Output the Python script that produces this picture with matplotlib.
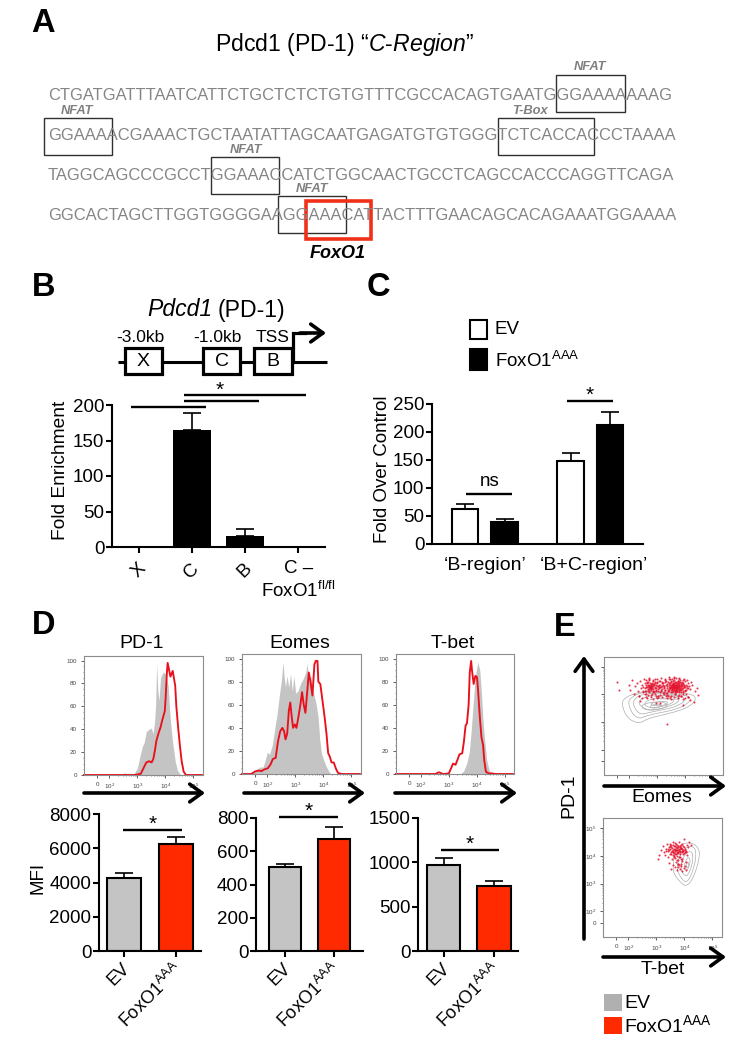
import matplotlib
matplotlib.use('Agg')
import matplotlib.pyplot as plt
import numpy as np
from matplotlib.patches import Rectangle
from matplotlib.transforms import ScaledTranslation

plt.rcParams['font.family'] = ['Liberation Sans', 'DejaVu Sans']
plt.rcParams['mathtext.fontset'] = 'custom'
plt.rcParams['mathtext.rm'] = 'Liberation Sans'
plt.rcParams['mathtext.it'] = 'Liberation Sans:italic'
plt.rcParams['mathtext.bf'] = 'Liberation Sans:bold'
plt.rcParams['mathtext.default'] = 'regular'

W, H = 739, 1049
GREY = '#c4c4c4'
RED = '#ff2a00'
FOX = r'FoxO1$^{AAA}$'

# panel A
seq_lines = ['CTGATGATTTAATCATTCTGCTCTCTGTGTTTCGCCACAGTGAATGGGAAAAAAAG',
             'GGAAAACGAAACTGCTAATATTAGCAATGAGATGTGTGGGTCTCACCACCCTAAAA',
             'TAGGCAGCCCGCCTGGAAACCATCTGGCAACTGCCTCAGCCACCCAGGTTCAGA',
             'GGCACTAGCTTGGTGGGGAAGGAAACATTACTTTGAACAGCACAGAAATGGAAAA']
motif_names = ['NFAT', 'NFAT', 'T-Box', 'NFAT', 'NFAT']

# panel B
b_labels = ['X', 'C', 'B', 'C \u2013\nFoxO1$^{fl/fl}$']
b_values = [1, 165, 16, 0.8]
b_errors = [0, 24, 9, 0]
b_ticks = [0, 50, 100, 150, 200]

# panel C
c_groups = ['\u2018B-region\u2019', '\u2018B+C-region\u2019']
c_ev = [63, 148]
c_ev_err = [8, 15]
c_fox = [40, 213]
c_fox_err = [5, 22]
c_ticks = [0, 50, 100, 150, 200, 250]

# panel D bars
mfi_names = ['PD-1', 'Eomes', 'T-bet']
mfi_ev = [4250, 505, 975]
mfi_ev_err = [300, 20, 75]
mfi_fox = [6280, 675, 735]
mfi_fox_err = [420, 70, 55]
mfi_ticks = [[0, 2000, 4000, 6000, 8000], [0, 200, 400, 600, 800], [0, 500, 1000, 1500]]

# panel D histograms, x in log10 units
pd1_grey_x = [1.1, 2.40, 2.56, 2.70, 2.88, 3.0, 3.08, 3.18, 3.24, 3.32, 3.42, 3.5, 3.56, 3.61, 3.65, 3.69, 3.73,
              3.77, 3.83, 3.92, 4.01, 4.10, 4.17, 4.25, 4.35, 4.43, 4.55, 5.3]
pd1_grey_y = [0, 0, 2, 0.5, 1, 6, 15, 25, 28, 38, 40, 41, 36, 45, 60, 97, 75, 65, 85, 90, 88, 78, 50, 30, 12, 4, 0, 0]
pd1_red_x = [1.1, 2.9, 3.12, 3.24, 3.32, 3.42, 3.51, 3.57, 3.63, 3.68, 3.75, 3.83, 3.89, 3.98, 4.01, 4.05, 4.08,
             4.13, 4.18, 4.26, 4.35, 4.39, 4.46, 4.52, 4.58, 4.65, 4.73, 5.3]
pd1_red_y = [0, 0, 1, 7, 11, 12, 11, 14, 22, 30, 36, 42, 48, 56, 68, 88, 98, 92, 86, 91, 78, 60, 40, 25, 12, 3, 0, 0]

eomes_grey_x = [1.1, 1.37, 1.55, 1.73, 1.85, 1.94, 2.0, 2.08, 2.18, 2.26, 2.35, 2.44, 2.5, 2.56, 2.6, 2.65, 2.70,
                2.77, 2.83, 2.89, 2.95, 3.01, 3.10, 3.18, 3.27, 3.37, 3.42, 3.48, 3.55, 3.63, 3.73, 3.81, 3.87,
                3.93, 4.01, 4.11, 4.23, 4.29, 5.3]
eomes_grey_y = [0, 0, 2, 6, 6, 13, 19, 17, 25, 38, 52, 70, 80, 97, 85, 75, 85, 75, 87, 72, 85, 70, 72, 78, 82, 88,
                96, 80, 85, 72, 62, 50, 30, 18, 12, 6, 1, 0, 0]
eomes_red_x = [1.1, 1.43, 1.55, 1.67, 1.79, 1.90, 2.02, 2.11, 2.20, 2.30, 2.38, 2.46, 2.54, 2.60, 2.65, 2.71, 2.77,
               2.82, 2.87, 2.92, 2.98, 3.04, 3.10, 3.18, 3.24, 3.30, 3.36, 3.42, 3.48, 3.54, 3.61, 3.68, 3.73,
               3.79, 3.82, 3.89, 3.96, 4.04, 4.11, 4.17, 4.23, 4.29, 4.37, 4.44, 4.52, 4.64, 5.3]
eomes_red_y = [0, 0, 2, 3, 2.5, 4, 5, 8, 13, 14, 28, 37, 40, 37, 30, 35, 55, 62, 50, 40, 43, 40, 48, 60, 71, 60, 53,
               70, 88, 80, 68, 95, 98, 98, 80, 78, 65, 50, 35, 18, 15, 10, 10, 5, 1, 0, 0]

tbet_grey_x = [1.1, 3.42, 3.54, 3.65, 3.74, 3.81, 3.87, 3.95, 4.04, 4.11, 4.17, 4.23, 4.29, 4.36, 4.45, 4.55, 5.3]
tbet_grey_y = [0, 0, 3, 10, 20, 40, 60, 85, 97, 90, 70, 45, 28, 12, 3, 0, 0]
tbet_red_x = [1.1, 2.52, 2.64, 2.79, 3, 3.08, 3.15, 3.24, 3.32, 3.38, 3.48, 3.54, 3.60, 3.65, 3.71, 3.75, 3.80,
              3.83, 3.89, 3.95, 4.01, 4.05, 4.11, 4.17, 4.23, 4.27, 4.33, 4.43, 4.55, 4.67, 5.3]
tbet_red_y = [0, 0, 1.5, 0, 0.5, 5, 9, 8, 13, 17, 18, 28, 42, 44, 60, 88, 98, 90, 78, 85, 84, 72, 50, 32, 25, 12, 2,
              0.5, 0.5, 0, 0]

# panel E contours (EV), x and y in log10 units
eomes_contours = [
    ([1.73, 1.85, 2.14, 2.56, 3.15, 3.75, 4.29, 4.38, 4.17, 3.75, 3.15, 2.68, 2.38, 2.08, 1.85],
     [3.70, 3.88, 4.02, 4.12, 4.10, 4.06, 4.00, 3.82, 3.58, 3.40, 3.25, 3.13, 2.96, 3.04, 3.28]),
    ([1.95, 2.10, 2.45, 3.00, 3.60, 4.10, 4.20, 3.95, 3.50, 3.00, 2.60, 2.35, 2.10],
     [3.72, 3.92, 4.08, 4.08, 4.04, 3.95, 3.80, 3.58, 3.42, 3.32, 3.22, 3.12, 3.30]),
    ([2.12, 2.30, 2.70, 3.20, 3.70, 3.98, 3.95, 3.55, 3.05, 2.65, 2.40, 2.22],
     [3.72, 3.95, 4.04, 4.02, 3.98, 3.88, 3.72, 3.52, 3.42, 3.33, 3.28, 3.45]),
    ([2.30, 2.55, 3.00, 3.50, 3.80, 3.70, 3.20, 2.75, 2.48],
     [3.72, 3.92, 3.96, 3.95, 3.85, 3.68, 3.50, 3.42, 3.52]),
    ([2.50, 2.80, 3.30, 3.62, 3.50, 3.05, 2.68],
     [3.68, 3.85, 3.88, 3.82, 3.66, 3.54, 3.52]),
    ([2.42, 2.75, 3.20, 3.40, 3.15, 2.75, 2.50],
     [3.60, 3.72, 3.74, 3.60, 3.48, 3.42, 3.48]),
    ([2.70, 3.10, 3.40, 3.30, 2.95],
     [3.66, 3.75, 3.74, 3.62, 3.58]),
    ([2.72, 3.00, 3.18, 3.05, 2.80],
     [3.58, 3.66, 3.62, 3.52, 3.50]),
    ([2.95, 3.40, 3.85, 3.75, 3.30, 2.98],
     [3.92, 3.98, 3.92, 3.82, 3.84, 3.84]),
]
tbet_contours = [
    ([3.57, 3.67, 3.95, 4.32, 4.54, 4.52, 4.38, 4.20, 4.02, 3.93, 3.73],
     [3.49, 4.22, 4.46, 4.46, 4.22, 3.86, 3.37, 3.01, 2.92, 2.99, 3.19]),
    ([3.72, 3.85, 4.15, 4.38, 4.42, 4.30, 4.15, 4.02, 3.85],
     [3.55, 4.10, 4.36, 4.30, 3.95, 3.45, 3.12, 3.05, 3.25]),
    ([3.85, 4.00, 4.25, 4.32, 4.22, 4.08, 3.95],
     [3.60, 4.05, 4.20, 3.90, 3.50, 3.25, 3.35]),
    ([3.98, 4.12, 4.22, 4.15, 4.05],
     [3.65, 3.98, 3.85, 3.55, 3.45]),
    ([4.05, 4.15, 4.14, 4.08],
     [3.68, 3.80, 3.60, 3.55]),
]

# panel E dots (FoxO1 AAA)
eomes_dots_x = [1.55, 1.62, 1.98, 2.02, 2.10, 2.16, 2.22, 2.26, 2.30, 2.33, 2.37, 2.41, 2.44, 2.47, 2.50, 2.52, 2.55,
                2.57, 2.60, 2.61, 2.64, 2.66, 2.68, 2.70, 2.71, 2.73, 2.75, 2.77, 2.78, 2.80, 2.82, 2.84, 2.86, 2.87,
                2.90, 2.92, 2.93, 2.96, 2.98, 3.00, 3.02, 3.04, 3.06, 3.08, 3.10, 3.13, 3.15, 3.17, 3.19, 3.21, 3.25,
                3.28, 3.30, 3.33, 3.35, 3.37, 3.39, 3.41, 3.42, 3.44, 3.45, 3.47, 3.48, 3.50, 3.51, 3.52, 3.54, 3.55,
                3.56, 3.57, 3.59, 3.60, 3.61, 3.62, 3.64, 3.65, 3.66, 3.67, 3.69, 3.70, 3.71, 3.73, 3.74, 3.75, 3.76,
                3.78, 3.79, 3.80, 3.82, 3.83, 3.84, 3.85, 3.87, 3.88, 3.90, 3.91, 3.93, 3.95, 3.97, 3.99, 4.02, 4.05,
                4.08, 4.12, 4.18, 4.25, 4.33, 4.41, 4.46, 4.30, 4.15, 3.35, 2.62, 3.10, 3.72, 3.90, 2.40, 2.95, 3.58,
                3.62, 3.44, 3.66, 3.52, 3.77, 3.60, 3.70, 3.55, 3.81, 3.68, 2.74, 2.79, 2.69, 2.83, 2.76, 2.88, 3.05,
                3.12, 3.23, 3.31, 3.38, 2.58, 2.50, 3.46, 3.92, 3.86, 3.63, 3.49, 3.74, 3.33, 4.00, 4.10, 2.90, 2.48,
                3.18, 3.00, 2.85, 2.72, 3.58, 3.42, 3.26, 3.78, 3.95, 4.08, 2.35,
                2.56, 2.58, 2.60, 2.62, 2.63, 2.65, 2.67, 2.68, 2.70, 2.71, 2.72, 2.74, 2.75, 2.76, 2.78,
                2.79, 2.81, 2.82, 2.83, 2.85, 2.86, 2.88, 2.89, 2.91, 2.92, 2.94, 2.95, 2.97, 2.99, 3.01,
                3.03, 3.05, 3.07, 3.09, 3.11, 3.14, 3.16, 3.18, 3.20, 3.22, 3.24, 3.26, 3.29, 3.31, 3.34,
                3.36, 3.38, 3.40, 3.41, 3.43, 3.44, 3.46, 3.47, 3.49, 3.50, 3.51, 3.53, 3.54, 3.55, 3.57,
                3.58, 3.59, 3.60, 3.62, 3.63, 3.64, 3.65, 3.67, 3.68, 3.69, 3.70, 3.72, 3.73, 3.74, 3.75,
                3.77, 3.78, 3.79, 3.80, 3.81, 3.83, 3.84, 3.85, 3.86, 3.88, 3.89, 3.90, 3.92, 3.94, 3.96,
                3.98, 4.00, 4.03, 4.06, 4.09, 3.52, 3.56, 3.61, 3.66, 3.71, 3.76, 3.58, 3.63, 3.68, 3.73,
                3.48, 3.54, 3.60, 3.65, 3.70,
                2.60, 2.72, 2.85, 2.98, 3.12, 3.26, 3.40, 3.52, 3.66, 3.78, 3.92, 4.05, 2.68, 2.82, 2.96,
                3.08, 3.22, 3.36, 3.50, 3.64, 3.78, 3.90, 2.55, 2.78, 3.02, 3.30, 3.58, 3.84, 4.02, 4.20]
eomes_dots_y = [4.44, 4.18, 4.36, 4.18, 4.52, 4.02, 4.30, 4.42, 4.12, 3.96, 4.48, 4.22, 4.34, 3.88, 4.26, 4.56, 4.14,
                4.40, 4.28, 3.92, 4.46, 4.20, 4.36, 4.08, 4.52, 4.30, 4.42, 4.22, 3.98, 4.36, 4.26, 4.48, 4.14, 4.34,
                4.24, 4.56, 4.40, 4.12, 4.30, 4.46, 4.20, 3.94, 4.36, 4.26, 4.50, 4.16, 4.32, 4.44, 4.06, 4.42, 4.31,
                4.18, 4.50, 4.38, 4.25, 4.12, 4.46, 4.33, 4.21, 4.55, 4.40, 4.28, 4.15, 4.48, 4.36, 4.24, 4.10, 4.43,
                4.31, 4.20, 4.52, 4.38, 4.27, 4.16, 4.45, 4.34, 4.23, 4.08, 4.41, 4.30, 4.19, 4.49, 4.37, 4.26, 4.13,
                4.44, 4.33, 4.21, 4.52, 4.39, 4.28, 4.15, 4.46, 4.35, 4.23, 4.10, 4.42, 4.30, 4.18, 4.48, 4.36, 4.25,
                4.40, 4.30, 4.20, 4.34, 4.14, 4.24, 3.98, 3.72, 3.80, 2.94, 3.86, 3.70, 3.88, 3.62, 3.78, 3.68, 4.60,
                4.28, 4.24, 4.22, 4.29, 4.25, 4.18, 4.12, 4.34, 4.30, 4.40, 4.29, 4.33, 4.26, 4.38, 4.20, 4.09, 4.28,
                4.12, 4.22, 4.05, 3.96, 4.02, 4.14, 3.90, 3.85, 3.95, 4.02, 3.84, 3.96, 3.88, 3.86, 3.92, 4.00, 4.08,
                3.92, 3.86, 3.82, 4.60, 4.62, 4.58, 4.57, 4.60, 4.58, 3.90, 3.96,
                4.22, 4.34, 4.12, 4.40, 4.26, 4.31, 4.17, 4.44, 4.24, 4.36, 4.12, 4.28, 4.20, 4.38, 4.16,
                4.32, 4.25, 4.42, 4.10, 4.30, 4.21, 4.37, 4.14, 4.44, 4.27, 4.18, 4.34, 4.24, 4.40, 4.13,
                4.30, 4.48, 4.22, 4.35, 4.10, 4.28, 4.40, 4.19, 4.33, 4.08, 4.26, 4.46, 4.15, 4.35, 4.05,
                4.30, 4.18, 4.40, 4.26, 4.14, 4.36, 4.22, 4.44, 4.10, 4.32, 4.18, 4.38, 4.26, 4.48, 4.12,
                4.34, 4.22, 4.42, 4.08, 4.28, 4.36, 4.16, 4.46, 4.24, 4.34, 4.12, 4.40, 4.20, 4.30, 4.50,
                4.08, 4.26, 4.38, 4.16, 4.46, 4.24, 4.34, 4.10, 4.42, 4.20, 4.30, 4.38, 4.14, 4.26, 4.36,
                4.12, 4.28, 4.18, 4.32, 4.22, 4.20, 4.26, 4.32, 4.28, 4.22, 4.18, 4.36, 4.14, 4.34, 4.32,
                4.26, 4.34, 4.24, 4.20, 4.26,
                4.54, 4.58, 4.52, 4.56, 4.60, 4.54, 4.62, 4.58, 4.60, 4.56, 4.54, 4.52, 3.98, 4.00, 3.96,
                3.98, 4.02, 3.98, 3.96, 4.00, 3.98, 4.00, 4.02, 3.92, 3.90, 3.94, 3.92, 3.96, 4.00, 4.46]
tbet_dots_x = [3.08, 3.06, 3.15, 3.22, 3.28, 3.30, 3.34, 3.38, 3.40, 3.42, 3.45, 3.47, 3.48, 3.50, 3.52, 3.53, 3.55,
               3.56, 3.58, 3.59, 3.60, 3.62, 3.63, 3.64, 3.66, 3.67, 3.68, 3.70, 3.71, 3.72, 3.73, 3.75, 3.76, 3.77,
               3.78, 3.80, 3.81, 3.82, 3.84, 3.85, 3.86, 3.88, 3.89, 3.90, 3.92, 3.93, 3.95, 3.96, 3.98, 4.00, 4.02,
               4.04, 4.06, 4.08, 4.10, 4.13, 4.16, 4.22, 3.44, 3.52, 3.60, 3.68, 3.74, 3.79, 3.83, 3.87, 3.91, 3.97,
               4.01, 4.05, 3.58, 3.66, 3.72, 3.85, 3.94, 4.03,
               3.36, 3.43, 3.46, 3.49, 3.51, 3.54, 3.57, 3.59, 3.61, 3.63, 3.65, 3.67, 3.69, 3.70, 3.72,
               3.74, 3.76, 3.77, 3.79, 3.81, 3.83, 3.85, 3.87, 3.89, 3.91, 3.93, 3.95, 3.98, 4.01, 4.04,
               3.62, 3.68, 3.73, 3.78, 3.84, 3.88, 3.70, 3.76, 3.82, 3.92]
tbet_dots_y = [4.04, 3.90, 4.22, 4.34, 4.12, 4.02, 4.26, 4.42, 3.96, 4.18, 4.32, 4.08, 4.44, 4.24, 4.14, 4.38, 3.88,
               4.28, 4.02, 4.50, 4.20, 4.10, 4.36, 3.94, 4.26, 4.16, 4.46, 4.06, 4.32, 3.84, 4.22, 4.40, 4.12, 3.70,
               4.30, 4.18, 4.48, 3.96, 4.24, 4.36, 4.08, 3.62, 4.28, 4.16, 4.44, 3.88, 4.22, 4.34, 4.10, 4.62, 4.26,
               3.78, 4.18, 4.40, 4.04, 4.30, 4.50, 4.40, 3.74, 3.54, 3.66, 3.58, 3.48, 3.60, 3.52, 3.70, 3.46, 3.56,
               3.64, 3.50, 4.14, 4.20, 4.10, 4.12, 4.08, 4.14,
               4.16, 4.26, 4.20, 4.34, 4.08, 4.30, 4.18, 4.40, 4.12, 4.24, 4.34, 4.06, 4.20, 4.42, 4.14,
               4.28, 4.20, 4.36, 4.10, 4.24, 4.32, 4.18, 4.28, 4.38, 4.12, 4.26, 4.16, 4.30, 4.20, 4.12,
               3.98, 3.92, 4.00, 3.86, 3.94, 3.88, 3.78, 3.72, 3.66, 3.80]

decades = [1.57, 2, 3, 4, 5]
decade_labels = ['0', '$10^{2}$', '$10^{3}$', '$10^{4}$', '$10^{5}$']
minor_logs = [d + np.log10(m) for d in [2, 3, 4, 5] for m in range(2, 10) if d + np.log10(m) < 5.3]

fig = plt.figure(figsize=(W / 100, H / 100), dpi=100, facecolor='white')


def px_axes(left, top, right, bottom):
    return fig.add_axes([left / W, 1 - bottom / H, (right - left) / W, (bottom - top) / H])


def style_bars(ax, yticks, ymax, xlim):
    ax.set_xlim(*xlim)
    ax.set_ylim(0, ymax)
    ax.set_yticks(yticks)
    for side in ['top', 'right']:
        ax.spines[side].set_visible(False)
    for side in ['left', 'bottom']:
        ax.spines[side].set_linewidth(1.5)
    ax.tick_params(width=1.5, length=4.5, labelsize=13.5, pad=1)
    ax.patch.set_alpha(0)


def style_flow(ax, xlabels=True):
    ax.set_xlim(1.1, 5.34)
    ax.set_xticks(decades)
    ax.set_xticks(minor_logs, minor=True)
    if xlabels:
        ax.set_xticklabels(decade_labels)
    else:
        ax.set_xticklabels([])
    for s in ax.spines.values():
        s.set_color('#8c8c8c')
        s.set_linewidth(0.8)
    ax.tick_params(which='major', length=2, width=0.6, labelsize=4.5, pad=3, colors='#444444')
    ax.tick_params(which='minor', length=1, width=0.4, colors='#444444')


def draw_contours(ax, contours):
    # rounds the corners of the outlines, two passes of corner cutting
    for cx, cy in contours:
        pts = np.column_stack([cx, cy])
        for _ in range(2):
            nxt = np.roll(pts, -1, axis=0)
            pts = np.vstack([0.75 * pts + 0.25 * nxt, 0.25 * pts + 0.75 * nxt])
            n = len(pts) // 2
            pts = pts[np.ravel(np.column_stack([np.arange(n), np.arange(n) + n]))]
        ax.fill(pts[:, 0], pts[:, 1], facecolor='none', edgecolor='#adadad', lw=0.5)


# panel B
ax = px_axes(112, 405, 325, 547)
b_x = np.arange(len(b_values))
ax.bar(b_x, b_values, width=0.7, color='black')
ax.errorbar(b_x[1:3], b_values[1:3], yerr=[[0, 0], b_errors[1:3]], fmt='none', ecolor='black',
            elinewidth=1.2, capsize=6.5, capthick=1.2)
style_bars(ax, b_ticks, 200, (-0.5, 3.5))
ax.set_xticks(b_x)
ax.set_xticklabels(b_labels, linespacing=1.25)
ax.tick_params(axis='x', labelsize=13.5, pad=5)
for lab in ax.get_xticklabels()[:3]:
    lab.set_rotation(45)
ax.set_ylabel('Fold Enrichment', fontsize=13.8, labelpad=3, y=0.54)

# panel C
ax = px_axes(432, 404, 643, 544)
c_left = np.array([0, 2.67])
c_right = c_left + 1
ax.bar(c_left, c_ev, width=0.67, color='white', edgecolor='black', linewidth=1.5)
ax.bar(c_right, c_fox, width=0.67, color='black', edgecolor='black', linewidth=1.5)
ax.errorbar(c_left, c_ev, yerr=[[0, 0], c_ev_err], fmt='none', ecolor='black', elinewidth=1.2, capsize=6.5,
            capthick=1.2)
ax.errorbar(c_right, c_fox, yerr=[[0, 0], c_fox_err], fmt='none', ecolor='black', elinewidth=1.2, capsize=6.5,
            capthick=1.2)
style_bars(ax, c_ticks, 250, (-0.835, 4.5))
ax.set_xticks((c_left + c_right) / 2 + np.array([0, 0.08]))
ax.set_xticklabels(c_groups)
ax.tick_params(axis='x', length=0, labelsize=14, pad=9)
ax.set_ylabel('Fold Over Control', fontsize=13.5, labelpad=1, y=0.535)

# panel D bars
bar_boxes = [(99, 814.3, 201, 951), (256, 818, 363, 951), (418, 818, 518, 951)]
bar_xlims = [(-0.48, 1.48), (-0.59, 1.59), (-0.52, 1.48)]
shift_left = ScaledTranslation(-3 / 100, 0, fig.dpi_scale_trans)
for i in range(3):
    ax = px_axes(*bar_boxes[i])
    ax.bar([0, 1], [mfi_ev[i], mfi_fox[i]], width=0.66, color=[GREY, RED], edgecolor='black', linewidth=1.5)
    ax.errorbar([0, 1], [mfi_ev[i], mfi_fox[i]], yerr=[[0, 0], [mfi_ev_err[i], mfi_fox_err[i]]], fmt='none',
                ecolor='black', elinewidth=1.2, capsize=6.5, capthick=1.2)
    style_bars(ax, mfi_ticks[i], mfi_ticks[i][-1], bar_xlims[i])
    ax.set_xticks([0, 1])
    ax.set_xticklabels(['EV', FOX], rotation=45, ha='right', rotation_mode='anchor')
    ax.tick_params(axis='x', labelsize=13, pad=2)
    for lab in ax.get_xticklabels():
        lab.set_transform(lab.get_transform() + shift_left)
    if i == 0:
        ax.set_ylabel('MFI', fontsize=13.5, labelpad=2, y=0.534)

# panel D histograms
hist_boxes = [(84, 656, 203, 775), (242, 654, 361, 774), (396, 654, 514, 774)]
hist_data = [(pd1_grey_x, pd1_grey_y, pd1_red_x, pd1_red_y),
             (eomes_grey_x, eomes_grey_y, eomes_red_x, eomes_red_y),
             (tbet_grey_x, tbet_grey_y, tbet_red_x, tbet_red_y)]
for box, (gx, gy, rx, ry) in zip(hist_boxes, hist_data):
    ax = px_axes(*box)
    ax.fill_between(gx, gy, color=GREY, linewidth=0)
    ax.plot(rx, ry, color='#e8101c', lw=1.35, clip_on=False)
    style_flow(ax)
    ax.set_ylim(0, 104)
    ax.set_yticks([0, 20, 40, 60, 80, 100])
    ax.set_yticks(np.arange(0, 101, 5), minor=True)

# panel E flow plots
ax = px_axes(604, 657, 723, 775)
draw_contours(ax, eomes_contours)
ax.scatter(eomes_dots_x, eomes_dots_y, s=2.2, color='#e4142e', alpha=0.85, linewidths=0, zorder=3)
style_flow(ax, xlabels=False)
ax.set_ylim(1.08, 5.36)
ax.set_yticks(decades)
ax.set_yticklabels([])
ax.set_yticks(minor_logs, minor=True)

ax = px_axes(603, 818, 722, 937)
draw_contours(ax, tbet_contours)
ax.scatter(tbet_dots_x, tbet_dots_y, s=2.2, color='#e4142e', alpha=0.85, linewidths=0, zorder=3)
style_flow(ax)
ax.set_ylim(1.08, 5.36)
ax.set_yticks(decades)
ax.set_yticklabels(decade_labels)
ax.set_yticks(minor_logs, minor=True)

# overlay in picture pixels for annotations
ov = fig.add_axes([0, 0, 1, 1], zorder=10)
ov.set_xlim(0, W)
ov.set_ylim(H, 0)
ov.axis('off')


def hline(x0, x1, y, lw=1.7):
    ov.plot([x0, x1], [y, y], color='black', lw=lw, solid_capstyle='butt')


def star(x, y):
    ov.text(x, y, '*', ha='center', va='center', fontsize=15)


def arrow(x0, y0, x1, y1):
    ov.annotate('', xy=(x1, y1), xytext=(x0, y0),
                arrowprops=dict(arrowstyle='->,head_length=0.55,head_width=0.4', lw=2.6, color='black',
                                mutation_scale=16, shrinkA=0, shrinkB=0))


for letter, lx, ly in [('A', 43, 24), ('B', 44, 288), ('C', 378, 288), ('D', 44, 626), ('E', 565, 627)]:
    ov.text(lx, ly, letter, ha='center', va='center', fontsize=23.5, fontweight='bold')

# panel A text and boxes
ov.text(344.5, 45, r'Pdcd1 (PD-1) “$\mathit{C\text{-}Region}$”', ha='center', va='center', fontsize=16.6)
for text, y in zip(seq_lines, [96, 136, 175, 215]):
    ov.text(48, y, text, ha='left', va='center', fontsize=11.88, color='#858585')
motif_boxes = [(556, 75, 625, 112), (44, 118, 112, 155), (498, 118, 594, 155), (211, 157, 279, 194),
               (278, 196, 346, 233)]
motif_label_xy = [(590, 67), (77, 111), (530, 111), (246, 150), (312, 189)]
for name, (x0, y0, x1, y1), (tx, ty) in zip(motif_names, motif_boxes, motif_label_xy):
    ov.add_patch(Rectangle((x0, y0), x1 - x0, y1 - y0, fill=False, ec='#303030', lw=1.0))
    ov.text(tx, ty, name, ha='center', va='center', fontsize=9.3, color='#808080', fontweight='bold', style='italic')
ov.add_patch(Rectangle((306, 201), 65, 38, fill=False, ec='#f03018', lw=2.6))
ov.text(338, 253, 'FoxO1', ha='center', va='center', fontsize=13, fontweight='bold', style='italic')

# panel B gene track
ov.text(212, 310, 'Pdcd1', ha='right', va='center', fontsize=16.6, style='italic')
ov.text(218, 310, '(PD-1)', ha='left', va='center', fontsize=16.6)
hline(118, 327, 362, lw=2.2)
for (x0, x1), name in zip([(125, 162), (203, 240), (254, 292)], ['X', 'C', 'B']):
    ov.add_patch(Rectangle((x0, 348), x1 - x0, 26, fc='white', ec='black', lw=2.3, zorder=3))
    ov.text((x0 + x1) / 2, 362, name, ha='center', va='center', fontsize=14, zorder=4)
for tag, x in zip(['-3.0kb', '-1.0kb', 'TSS'], [140.5, 217.5, 272.5]):
    ov.text(x, 338, tag, ha='center', va='center', fontsize=12.5)
ov.plot([293, 293, 305], [362, 333, 333], color='black', lw=2.3, solid_joinstyle='miter')
arrow(300, 333, 326, 333)
hline(131, 206, 407)
hline(184, 259, 401)
hline(184, 306, 395)
star(220, 390)

# panel C legend and brackets
ov.add_patch(Rectangle((470, 320), 17, 19, fc='white', ec='black', lw=1.5))
ov.add_patch(Rectangle((470, 349), 17, 21, fc='black', ec='black', lw=1.5))
ov.text(495, 329, 'EV', va='center', fontsize=13.5)
ov.text(495, 361, FOX, va='center', fontsize=13.5)
hline(466, 512, 494)
ov.text(490, 482, 'ns', ha='center', va='center', fontsize=13.5)
hline(567, 613, 401)
star(590, 395)

# panel D titles, arrows, brackets
for name, x in zip(mfi_names, [142, 300, 453]):
    ov.text(x, 644, name, ha='center', va='center', fontsize=14)
for x0, x1 in [(84, 205), (244, 365), (395, 517)]:
    arrow(x0, 793, x1, 793)
for x0, x1, y in [(123, 182, 830), (279, 338, 817), (441, 499, 850)]:
    hline(x0, x1, y)
    star((x0 + x1) / 2, y - 6)

# panel E labels
arrow(584, 939, 584, 656)
ov.text(569, 796, 'PD-1', rotation=90, ha='center', va='center', fontsize=14)
arrow(604, 786, 726, 786)
arrow(603, 957, 726, 957)
ov.text(662, 798, 'Eomes', ha='center', va='center', fontsize=14)
ov.text(663, 970, 'T-bet', ha='center', va='center', fontsize=14)
ov.add_patch(Rectangle((604, 994), 18, 17, fc='#b0b0b0', ec='none'))
ov.add_patch(Rectangle((604, 1017), 18, 17, fc=RED, ec='none'))
ov.text(624, 1003, 'EV', va='center', fontsize=14)
ov.text(624, 1025, FOX, va='center', fontsize=14)

fig.savefig('out.png', dpi=100, facecolor='white')
